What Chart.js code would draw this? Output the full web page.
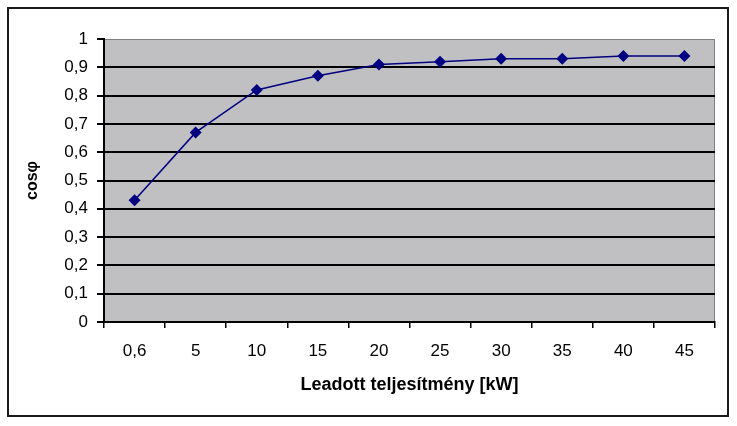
<!DOCTYPE html>
<html>
<head>
<meta charset="utf-8">
<script src="https://cdn.jsdelivr.net/npm/chart.js@4/dist/chart.umd.min.js"></script>
<style>
  html, body { margin: 0; padding: 0; background: #fff; }
  #wrap { position: relative; width: 737px; height: 426px; }
</style>
</head>
<body>
<div id="wrap"><canvas id="chart" width="737" height="426"></canvas></div>
<script>
/* ---------------- data ---------------- */
const categories = ['0,6', '5', '10', '15', '20', '25', '30', '35', '40', '45'];
const cosPhi = [0.43, 0.67, 0.82, 0.87, 0.91, 0.92, 0.93, 0.93, 0.94, 0.94];
const xTitle = 'Leadott teljesítmény [kW]';
const yTitle = 'cosφ';

const FONT = "'Liberation Sans', Arial, sans-serif";

/* plot background + outer frame, Excel style */
const excelFrame = {
  id: 'excelFrame',
  beforeDraw(chart) {
    const { ctx, chartArea: a } = chart;
    ctx.save();
    ctx.fillStyle = '#fff';
    ctx.fillRect(0, 0, chart.width, chart.height);
    ctx.strokeStyle = '#1a1a1a';
    ctx.lineWidth = 2;
    ctx.strokeRect(8, 8, 720, 408);
    ctx.fillStyle = '#c0c0c2';
    ctx.fillRect(a.left, a.top, a.right - a.left, a.bottom - a.top);
    ctx.strokeStyle = '#808080';
    ctx.lineWidth = 1;
    ctx.strokeRect(a.left + 0.5, a.top + 0.5, a.right - a.left - 1, a.bottom - a.top - 1);
    ctx.restore();
  }
};

new Chart(document.getElementById('chart'), {
  type: 'line',
  data: {
    labels: categories,
    datasets: [{
      data: cosPhi,
      borderColor: '#000080',
      backgroundColor: '#000080',
      borderWidth: 1.5,
      pointStyle: 'rectRot',
      pointRadius: 6,
      pointBorderWidth: 0,
      tension: 0
    }]
  },
  options: {
    responsive: false,
    animation: false,
    layout: { padding: { top: 39, right: 22, left: 0, bottom: 0 } },
    plugins: { legend: { display: false }, tooltip: { enabled: false } },
    scales: {
      x: {
        offset: true,
        afterFit: (s) => { s.height = 104; },
        grid: { offset: true, drawOnChartArea: false, tickLength: 6, tickColor: '#000', lineWidth: 1.5 },
        border: { color: '#000', width: 2 },
        ticks: { color: '#000', padding: 13, maxRotation: 0, font: { family: FONT, size: 17 } },
        title: { display: true, text: xTitle, color: '#000', padding: { top: 0, bottom: 30 },
                 font: { family: FONT, size: 18, weight: 'bold' } }
      },
      y: {
        min: 0, max: 1,
        afterFit: (s) => { s.width = 104; },
        grid: {
          color: (c) => (c.tick && (c.tick.value === 1 || c.tick.value === 0)) ? 'rgba(0,0,0,0)' : '#000',
          tickColor: '#000', tickLength: 7, lineWidth: 2
        },
        border: { color: '#000', width: 2 },
        ticks: {
          stepSize: 0.1, color: '#000', padding: 9, font: { family: FONT, size: 17 },
          callback: (v) => String(Math.round(v * 10) / 10).replace('.', ',')
        },
        title: { display: true, text: yTitle, color: '#000', padding: { top: 23, bottom: 0 },
                 font: { family: FONT, size: 16, weight: 'bold' } }
      }
    }
  },
  plugins: [excelFrame]
});
</script>
</body>
</html>
